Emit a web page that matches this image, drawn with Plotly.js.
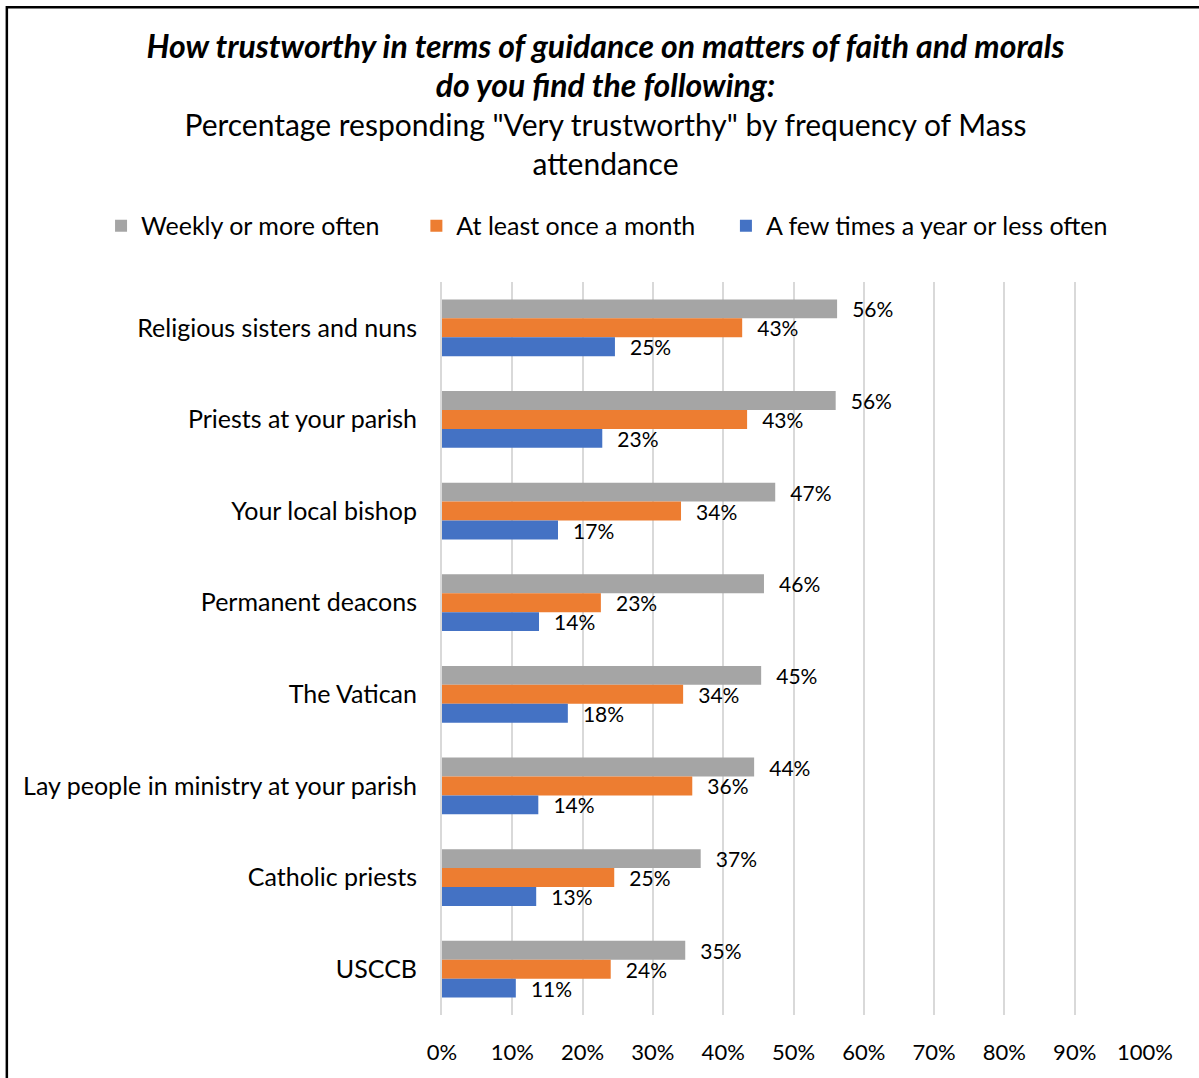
<!DOCTYPE html>
<html>
<head>
<meta charset="utf-8">
<script src="https://cdn.plot.ly/plotly-3.0.1.min.js"></script>
<style>html,body{margin:0;padding:0;background:#fff;}#chart{width:1199px;height:1078px;}</style>
</head>
<body>
<div id="chart"></div>
<script>
const categories = [
  "Religious sisters and nuns",
  "Priests at your parish",
  "Your local bishop",
  "Permanent deacons",
  "The Vatican",
  "Lay people in ministry at your parish",
  "Catholic priests",
  "USCCB"
];
const seriesNames = ["Weekly or more often", "At least once a month", "A few times a year or less often"];
const weekly  = [56.2, 56.0, 47.4, 45.8, 45.4, 44.4, 36.8, 34.6];
const monthly = [42.7, 43.4, 34.0, 22.6, 34.3, 35.6, 24.5, 24.0];
const yearly  = [24.6, 22.8, 16.5, 13.8, 17.9, 13.7, 13.4, 10.5];
const xTickVals = [0,10,20,30,40,50,60,70,80,90,100];
const xTickText = ["0%","10%","20%","30%","40%","50%","60%","70%","80%","90%","100%"];

const colors = ["#A5A5A5", "#ED7D31", "#4472C4"];
const FONT = "Lato, 'Open Sans', sans-serif";
const PAD = "\u00a0\u00a0\u200a";
const LEG_PADS = ["\u00a0\u00a0\u00a0\u00a0\u00a0", "\u00a0\u00a0\u00a0\u00a0", ""];

const traces = [weekly, monthly, yearly].map((vals, i) => ({
  type: "bar",
  orientation: "h",
  name: seriesNames[i] + LEG_PADS[i],
  y: categories,
  x: vals,
  marker: {color: colors[i]},
  texttemplate: PAD + "%{x:.0f}%",
  textposition: "outside",
  constraintext: "none",
  cliponaxis: false,
  textfont: {family: FONT, size: 21, color: "#000"},
  hoverinfo: "skip"
}));

const layout = {
  width: 1199,
  height: 1078,
  paper_bgcolor: "#fff",
  plot_bgcolor: "#fff",
  font: {family: FONT, color: "#000"},
  margin: {l: 442, r: 54, t: 282, b: 63},
  barmode: "group",
  bargap: 0.38,
  bargroupgap: 0,
  showlegend: true,
  title: {
    text: "<span style=\"font-size:32px\"><b><i>How trustworthy in terms of guidance on matters of faith and morals</i></b></span><br><span style=\"font-size:32px\"><b><i>do you find the following:</i></b></span><br>Percentage responding \"Very trustworthy\" by frequency of Mass<br>attendance",
    x: 0.505,
    xanchor: "center",
    xref: "container",
    yref: "container",
    y: 0.946,
    yanchor: "top",
    font: {family: FONT, size: 30, color: "#000"}
  },
  legend: {
    orientation: "h",
    xref: "paper",
    yref: "paper",
    x: -0.485,
    xanchor: "left",
    y: 1.0764,
    yanchor: "middle",
    font: {family: FONT, size: 25, color: "#000"},
    traceorder: "normal",
    itemclick: false
  },
  xaxis: {
    range: [0, 100],
    tickvals: xTickVals,
    ticktext: xTickText,
    showgrid: true,
    gridcolor: "#D9D9D9",
    gridwidth: 2,
    zeroline: false,
    showline: false,
    ticks: "",
    ticklabelstandoff: 22,
    tickfont: {family: FONT, size: 22, color: "#000"},
    fixedrange: true
  },
  yaxis: {
    autorange: "reversed",
    type: "category",
    showgrid: false,
    zeroline: false,
    showline: true,
    linecolor: "#D9D9D9",
    linewidth: 2,
    ticks: "",
    ticklabelstandoff: 18,
    tickfont: {family: FONT, size: 25, color: "#000"},
    fixedrange: true
  },
  shapes: [{
    type: "rect", xref: "paper", yref: "paper",
    x0: -0.619, x1: 1.2, y0: -0.2, y1: 1.375,
    line: {color: "#000", width: 2.5}, fillcolor: "rgba(0,0,0,0)", layer: "above"
  }]
};

Plotly.newPlot("chart", traces, layout, {displayModeBar: false, staticPlot: true});
</script>
</body>
</html>
